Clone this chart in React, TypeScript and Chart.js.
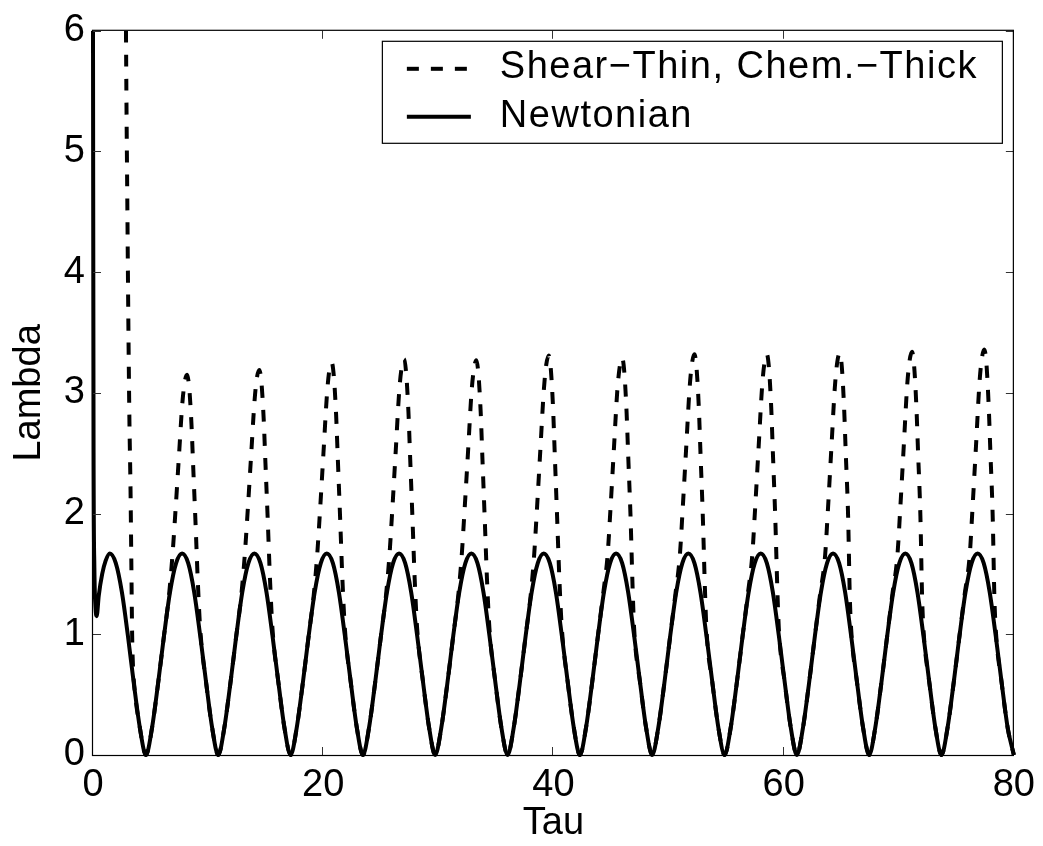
import React, { useEffect, useRef } from 'react';
import { Chart, registerables } from 'chart.js';

Chart.register(...registerables);

const FONT_FAMILY = '"Liberation Sans", Arial, Helvetica, sans-serif';

const xTickValues = [0, 20, 40, 60, 80];
const yTickValues = [0, 1, 2, 3, 4, 5, 6];
const xTitle = 'Tau';
const yTitle = 'Lambda';
const seriesNames = ['Shear\u2212Thin, Chem.\u2212Thick', 'Newtonian'];

// Newtonian (solid)
const newtonianTau = [
  0, 0.05, 0.12, 0.22, 0.32, 0.5, 0.8, 1.1, 1.46, 1.98, 2.51, 3.03, 3.55, 4.08,
  4.6, 5.12, 5.65, 6.17, 6.69, 7.22, 7.74, 8.27, 8.79, 9.31, 9.84, 10.36,
  10.88, 11.4, 11.93, 12.45, 12.97, 13.5, 14.02, 14.55, 15.07, 15.59, 16.12, 16.64,
  17.17, 17.69, 18.22, 18.74, 19.26, 19.79, 20.31, 20.84, 21.36, 21.88, 22.41, 22.93,
  23.45, 23.97, 24.5, 25.02, 25.54, 26.07, 26.59, 27.12, 27.64, 28.16, 28.69, 29.21,
  29.73, 30.25, 30.78, 31.3, 31.82, 32.35, 32.87, 33.4, 33.92, 34.44, 34.97, 35.49,
  36.02, 36.54, 37.07, 37.59, 38.11, 38.64, 39.16, 39.69, 40.21, 40.73, 41.26, 41.78,
  42.3, 42.82, 43.35, 43.87, 44.39, 44.92, 45.44, 45.97, 46.49, 47.01, 47.54, 48.06,
  48.58, 49.1, 49.63, 50.15, 50.67, 51.2, 51.72, 52.25, 52.77, 53.29, 53.82, 54.34,
  54.87, 55.39, 55.92, 56.44, 56.96, 57.49, 58.01, 58.54, 59.06, 59.58, 60.11, 60.63,
  61.15, 61.67, 62.2, 62.72, 63.24, 63.77, 64.29, 64.82, 65.34, 65.86, 66.39, 66.91,
  67.43, 67.95, 68.48, 69.0, 69.52, 70.05, 70.57, 71.1, 71.62, 72.14, 72.67, 73.19,
  73.71, 74.23, 74.76, 75.28, 75.8, 76.33, 76.85, 77.38, 77.9, 78.42, 78.95, 79.47,
  80.0,
];
const newtonianLambda = [
  6.0, 2.5, 1.55, 1.22, 1.15, 1.32, 1.5, 1.61, 1.67, 1.59, 1.35, 0.99, 0.59, 0.22,
  0, 0.22, 0.59, 0.99, 1.35, 1.59, 1.67, 1.59, 1.35, 0.99, 0.59, 0.22,
  0, 0.22, 0.59, 0.99, 1.35, 1.59, 1.67, 1.59, 1.35, 0.99, 0.59, 0.22,
  0, 0.22, 0.59, 0.99, 1.35, 1.59, 1.67, 1.59, 1.35, 0.99, 0.59, 0.22,
  0, 0.22, 0.59, 0.99, 1.35, 1.59, 1.67, 1.59, 1.35, 0.99, 0.59, 0.22,
  0, 0.22, 0.59, 0.99, 1.35, 1.59, 1.67, 1.59, 1.35, 0.99, 0.59, 0.22,
  0, 0.22, 0.59, 0.99, 1.35, 1.59, 1.67, 1.59, 1.35, 0.99, 0.59, 0.22,
  0, 0.22, 0.59, 0.99, 1.35, 1.59, 1.67, 1.59, 1.35, 0.99, 0.59, 0.22,
  0, 0.22, 0.59, 0.99, 1.35, 1.59, 1.67, 1.59, 1.35, 0.99, 0.59, 0.22,
  0, 0.22, 0.59, 0.99, 1.35, 1.59, 1.67, 1.59, 1.35, 0.99, 0.59, 0.22,
  0, 0.22, 0.59, 0.99, 1.35, 1.59, 1.67, 1.59, 1.35, 0.99, 0.59, 0.22,
  0, 0.22, 0.59, 0.99, 1.35, 1.59, 1.67, 1.59, 1.35, 0.99, 0.59, 0.22,
  0, 0.22, 0.59, 0.99, 1.35, 1.59, 1.67, 1.59, 1.35, 0.99, 0.59, 0.22,
  0,
];

// Shear-Thin, Chem.-Thick (dashed)
const shearTau = [
  2.84, 2.9, 2.98, 3.07, 3.16, 3.26, 3.33, 3.4, 3.48, 3.56, 4.08,
  4.6, 5.12, 5.65, 6.17, 6.6, 6.9, 7.15, 7.45, 7.75, 7.95, 8.17, 8.35, 8.55, 8.7, 8.9, 9.1, 9.31, 9.84, 10.36,
  10.88, 11.4, 11.93, 12.45, 12.88, 13.18, 13.43, 13.73, 14.03, 14.23, 14.45, 14.63, 14.83, 14.98, 15.18, 15.38, 15.59, 16.12, 16.64,
  17.17, 17.69, 18.22, 18.74, 19.17, 19.47, 19.72, 20.02, 20.32, 20.52, 20.74, 20.92, 21.12, 21.27, 21.47, 21.67, 21.88, 22.41, 22.93,
  23.45, 23.97, 24.5, 25.02, 25.45, 25.75, 26.0, 26.3, 26.6, 26.8, 27.02, 27.2, 27.4, 27.55, 27.75, 27.95, 28.16, 28.69, 29.21,
  29.73, 30.25, 30.78, 31.3, 31.73, 32.03, 32.28, 32.58, 32.88, 33.08, 33.3, 33.48, 33.68, 33.83, 34.03, 34.23, 34.44, 34.97, 35.49,
  36.02, 36.54, 37.07, 37.59, 38.02, 38.32, 38.57, 38.87, 39.17, 39.37, 39.59, 39.77, 39.97, 40.12, 40.32, 40.52, 40.73, 41.26, 41.78,
  42.3, 42.82, 43.35, 43.87, 44.3, 44.7, 44.95, 45.25, 45.55, 45.75, 45.97, 46.15, 46.35, 46.5, 46.7, 46.88, 47.01, 47.54, 48.06,
  48.58, 49.1, 49.63, 50.15, 50.58, 50.98, 51.23, 51.53, 51.83, 52.03, 52.25, 52.43, 52.63, 52.78, 52.98, 53.16, 53.29, 53.82, 54.34,
  54.87, 55.39, 55.92, 56.44, 56.87, 57.27, 57.52, 57.82, 58.12, 58.32, 58.54, 58.72, 58.92, 59.07, 59.27, 59.45, 59.58, 60.11, 60.63,
  61.15, 61.67, 62.2, 62.72, 63.15, 63.6, 63.85, 64.15, 64.45, 64.65, 64.87, 65.05, 65.25, 65.4, 65.6, 65.75, 65.86, 66.39, 66.91,
  67.43, 67.95, 68.48, 69.0, 69.43, 69.88, 70.13, 70.43, 70.73, 70.93, 71.15, 71.33, 71.53, 71.68, 71.88, 72.03, 72.14, 72.67, 73.19,
  73.71, 74.23, 74.76, 75.28, 75.71, 76.16, 76.41, 76.71, 77.01, 77.21, 77.43, 77.61, 77.81, 77.96, 78.16, 78.31, 78.42, 78.95, 79.47,
  80.0,
];
const shearLambda = [
  6.4, 5.5, 4.6, 3.6, 2.8, 2.2, 1.6, 1.0, 0.72, 0.6, 0.22,
  0, 0.22, 0.59, 0.99, 1.32, 1.65, 2.0, 2.45, 2.9, 3.08, 3.15, 3.05, 2.75, 2.4, 1.94, 1.45, 1.05, 0.59, 0.22,
  0, 0.22, 0.59, 0.99, 1.32, 1.65, 2.01, 2.47, 2.93, 3.12, 3.19, 3.09, 2.78, 2.42, 1.95, 1.45, 1.05, 0.59, 0.22,
  0, 0.22, 0.59, 0.99, 1.32, 1.65, 2.02, 2.5, 2.98, 3.18, 3.25, 3.14, 2.82, 2.45, 1.96, 1.45, 1.05, 0.59, 0.22,
  0, 0.22, 0.59, 0.99, 1.32, 1.65, 2.03, 2.52, 3.01, 3.2, 3.28, 3.17, 2.85, 2.47, 1.97, 1.45, 1.05, 0.59, 0.22,
  0, 0.22, 0.59, 0.99, 1.32, 1.65, 2.03, 2.51, 3.0, 3.19, 3.27, 3.16, 2.84, 2.46, 1.96, 1.45, 1.05, 0.59, 0.22,
  0, 0.22, 0.59, 0.99, 1.32, 1.65, 2.04, 2.54, 3.03, 3.23, 3.31, 3.2, 2.87, 2.48, 1.97, 1.45, 1.05, 0.59, 0.22,
  0, 0.22, 0.59, 0.99, 1.32, 1.65, 2.03, 2.53, 3.02, 3.21, 3.29, 3.18, 2.85, 2.47, 1.97, 1.38, 1.05, 0.59, 0.22,
  0, 0.22, 0.59, 0.99, 1.32, 1.65, 2.04, 2.54, 3.04, 3.24, 3.32, 3.21, 2.88, 2.49, 1.97, 1.38, 1.05, 0.59, 0.22,
  0, 0.22, 0.59, 0.99, 1.32, 1.65, 2.04, 2.54, 3.04, 3.24, 3.32, 3.21, 2.88, 2.49, 1.97, 1.38, 1.05, 0.59, 0.22,
  0, 0.22, 0.59, 0.99, 1.32, 1.65, 2.04, 2.55, 3.05, 3.25, 3.33, 3.22, 2.88, 2.49, 1.98, 1.3, 1.05, 0.59, 0.22,
  0, 0.22, 0.59, 0.99, 1.32, 1.65, 2.04, 2.55, 3.06, 3.26, 3.34, 3.23, 2.89, 2.5, 1.98, 1.3, 1.05, 0.59, 0.22,
  0, 0.22, 0.59, 0.99, 1.32, 1.65, 2.05, 2.56, 3.08, 3.28, 3.36, 3.25, 2.9, 2.51, 1.98, 1.3, 1.05, 0.59, 0.22,
  0,
];

const DASH = [12, 12];

const framePlugin = {
  id: 'matlabFrame',
  afterDatasetsDraw(chart: any) {
    const { ctx, chartArea, scales } = chart;
    const { left, right, top, bottom } = chartArea;
    ctx.save();
    // ticks (inward, on all four sides)
    ctx.strokeStyle = '#333';
    ctx.lineWidth = 1;
    ctx.setLineDash([]);
    const tl = 8;
    ctx.beginPath();
    xTickValues.forEach((v) => {
      const px = Math.round(scales.x.getPixelForValue(v)) - 0.5;
      ctx.moveTo(px, bottom);
      ctx.lineTo(px, bottom - tl);
      ctx.moveTo(px, top);
      ctx.lineTo(px, top + tl);
    });
    yTickValues.forEach((v) => {
      const py = Math.round(scales.y.getPixelForValue(v)) + 0.5;
      ctx.moveTo(left, py);
      ctx.lineTo(left + tl, py);
      ctx.moveTo(right, py);
      ctx.lineTo(right - tl, py);
    });
    ctx.stroke();
    // frame
    ctx.strokeStyle = '#000';
    ctx.lineWidth = 1.2;
    ctx.strokeRect(left - 0.5, top - 0.5, right - left, bottom - top + 1);
    ctx.restore();
  },
  afterDraw(chart: any) {
    const { ctx, chartArea } = chart;
    const bx = chartArea.right - 632;
    const by = chartArea.top + 10;
    const bw = 621;
    const bh = 103;
    ctx.save();
    ctx.fillStyle = '#fff';
    ctx.fillRect(bx, by, bw, bh);
    ctx.strokeStyle = '#000';
    ctx.lineWidth = 1.2;
    ctx.setLineDash([]);
    ctx.strokeRect(bx + 0.5, by + 0.5, bw - 1, bh - 1);

    const rows = [by + 28, by + 76];
    const lx0 = bx + 25;
    const lx1 = bx + 89;
    const tx = bx + 118;
    ctx.lineWidth = 4;
    ctx.lineCap = 'butt';
    // dashed sample
    ctx.setLineDash(DASH);
    ctx.beginPath();
    ctx.moveTo(lx0, rows[0]);
    ctx.lineTo(lx1, rows[0]);
    ctx.stroke();
    // solid sample
    ctx.setLineDash([]);
    ctx.beginPath();
    ctx.moveTo(lx0, rows[1]);
    ctx.lineTo(lx1, rows[1]);
    ctx.stroke();

    ctx.fillStyle = '#000';
    ctx.font = `38px ${FONT_FAMILY}`;
    (ctx as any).letterSpacing = '1.5px';
    ctx.textAlign = 'left';
    ctx.textBaseline = 'middle';
    ctx.fillText(seriesNames[0], tx, rows[0] - 1);
    ctx.fillText(seriesNames[1], tx, rows[1]);
    ctx.restore();
  },
};

export default function App() {
  const canvasRef = useRef<HTMLCanvasElement>(null);

  useEffect(() => {
    document.body.style.margin = '0';
    const canvas = canvasRef.current;
    if (!canvas) return;

    const tickFont = { family: FONT_FAMILY, size: 38 };
    const chart = new Chart(canvas, {
      type: 'line',
      data: {
        datasets: [
          {
            label: seriesNames[1],
            data: newtonianTau.map((t, i) => ({ x: t, y: newtonianLambda[i] })),
            borderColor: '#000',
            backgroundColor: '#000',
            borderWidth: 4,
            pointRadius: 0,
            cubicInterpolationMode: 'monotone',
            clip: { left: 3, top: 0, right: 3, bottom: 3 } as any,
          },
          {
            label: seriesNames[0],
            data: shearTau.map((t, i) => ({ x: t, y: shearLambda[i] })),
            borderColor: '#000',
            backgroundColor: '#000',
            borderWidth: 4,
            borderDash: DASH,
            pointRadius: 0,
            cubicInterpolationMode: 'monotone',
            clip: { left: 3, top: 0, right: 3, bottom: 3 } as any,
          },
        ],
      },
      options: {
        animation: false,
        responsive: false,
        devicePixelRatio: 1,
        events: [],
        layout: { padding: { top: 27, right: 27, left: 0, bottom: 0 } },
        plugins: {
          legend: { display: false },
          tooltip: { enabled: false },
          title: { display: false },
        },
        scales: {
          x: {
            type: 'linear',
            min: 0,
            max: 80,
            afterBuildTicks: (scale: any) => {
              scale.ticks = xTickValues.map((v) => ({ value: v }));
            },
            afterFit: (scale: any) => {
              scale.height = 91;
            },
            ticks: {
              font: tickFont,
              color: '#000',
              padding: 8,
              maxRotation: 0,
              autoSkip: false,
            },
            grid: { display: false, drawTicks: false },
            border: { display: false },
            title: {
              display: true,
              text: xTitle,
              font: tickFont,
              color: '#000',
              padding: { top: 0, bottom: 0 },
            },
          },
          y: {
            type: 'linear',
            min: 0,
            max: 6,
            afterBuildTicks: (scale: any) => {
              scale.ticks = yTickValues.map((v) => ({ value: v }));
            },
            afterFit: (scale: any) => {
              scale.width = 93;
            },
            ticks: {
              font: tickFont,
              color: '#000',
              padding: 8,
              autoSkip: false,
            },
            grid: { display: false, drawTicks: false },
            border: { display: false },
            title: {
              display: true,
              text: yTitle,
              font: tickFont,
              color: '#000',
              padding: { top: 7, bottom: 0 },
            },
          },
        },
      } as any,
      plugins: [framePlugin],
    });

    return () => {
      chart.destroy();
    };
  }, []);

  return (
    <div style={{ width: 1043, height: 846, background: '#fff' }}>
      <canvas ref={canvasRef} width={1043} height={846} style={{ display: 'block' }} />
    </div>
  );
}
